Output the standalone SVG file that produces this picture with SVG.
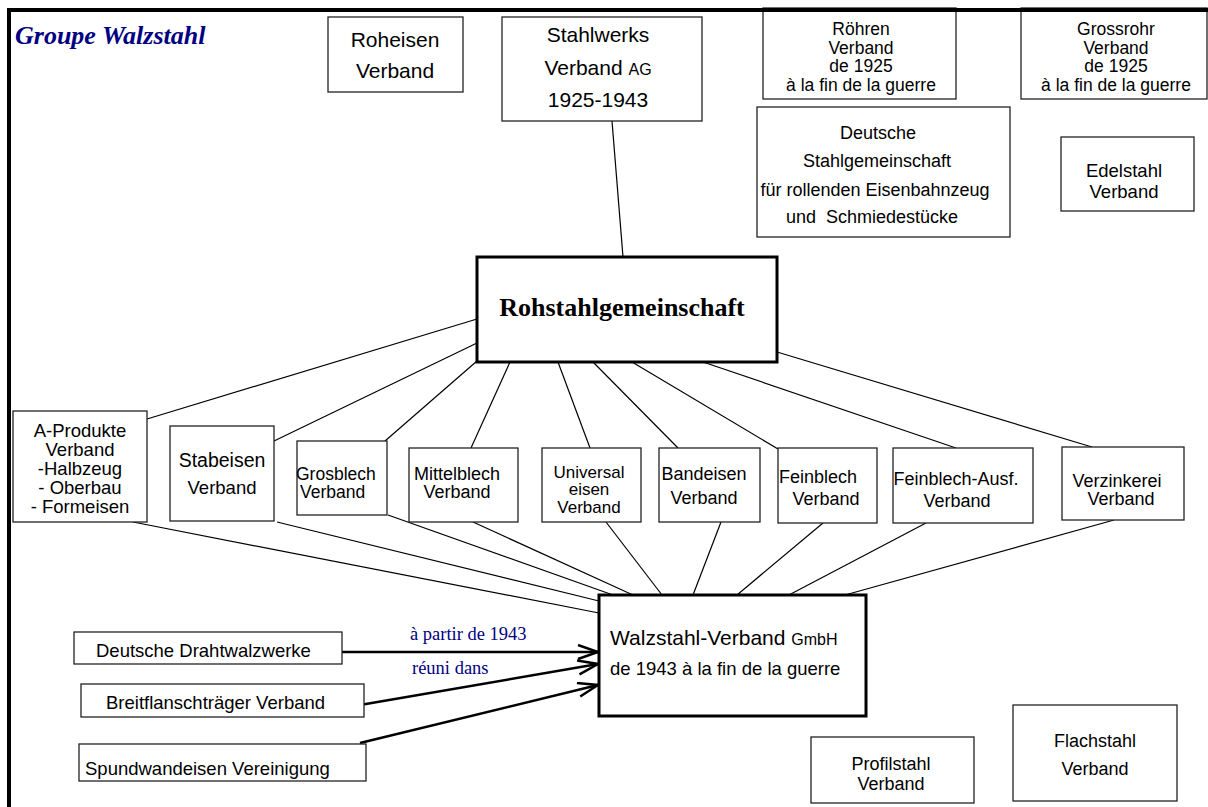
<svg xmlns="http://www.w3.org/2000/svg" width="1208" height="807" viewBox="0 0 1208 807">
<defs>
<style>
.box{fill:#fff;stroke:#222;stroke-width:1.3}
.thick{fill:#fff;stroke:#000;stroke-width:3}
.t{font-family:"Liberation Sans",Arial,sans-serif;font-size:18px;fill:#000}
.m{text-anchor:middle}
.c{stroke:#000;stroke-width:1.2;fill:none}
.a{stroke:#000;stroke-width:2.5;fill:none;marker-end:url(#open)}
.blue{font-family:"Liberation Serif","Times New Roman",serif;font-size:18.5px;fill:#000080}
</style>
<marker id="open" markerUnits="userSpaceOnUse" markerWidth="24" markerHeight="18" refX="21" refY="8" orient="auto" viewBox="0 0 24 18">
<path d="M1,1 L21,8 L1,15" fill="none" stroke="#000" stroke-width="2.5"/>
</marker>
</defs>
<rect x="0" y="0" width="1208" height="807" fill="#fff"/>

<g id="connectors">
<line class="c" x1="612" y1="121" x2="623" y2="257"/>
<line class="c" x1="147" y1="419" x2="477" y2="319"/>
<line class="c" x1="274" y1="441" x2="477" y2="343"/>
<line class="c" x1="385" y1="441" x2="477" y2="361"/>
<line class="c" x1="471" y1="448" x2="510" y2="362"/>
<line class="c" x1="590" y1="448" x2="558" y2="362"/>
<line class="c" x1="678" y1="448" x2="593" y2="362"/>
<line class="c" x1="778" y1="449" x2="632" y2="362"/>
<line class="c" x1="956" y1="448" x2="703" y2="362"/>
<line class="c" x1="1092" y1="447" x2="777" y2="352"/>
<line class="c" x1="133" y1="522" x2="599" y2="613"/>
<line class="c" x1="277" y1="522" x2="599" y2="601"/>
<line class="c" x1="388" y1="515" x2="613" y2="595"/>
<line class="c" x1="473" y1="522" x2="633" y2="595"/>
<line class="c" x1="606" y1="522" x2="662" y2="595"/>
<line class="c" x1="721" y1="522" x2="693" y2="595"/>
<line class="c" x1="823" y1="523" x2="737" y2="595"/>
<line class="c" x1="926" y1="523" x2="787" y2="596"/>
<line class="c" x1="1114" y1="520" x2="845" y2="595"/>
<line class="a" x1="339" y1="652" x2="598" y2="652"/>
<line class="a" x1="360" y1="705" x2="598" y2="664"/>
<line class="a" x1="360" y1="743" x2="598" y2="685"/>
<text class="blue" x="410" y="640">à partir de 1943</text>
<text class="blue" x="412" y="674">réuni dans</text>
</g>

<g id="title">
<text x="15" y="44" style="font-family:'Liberation Serif','Times New Roman',serif;font-size:26px;font-weight:bold;font-style:italic;fill:#000080">Groupe Walzstahl</text>
</g>

<g id="roheisen">
<rect class="box" x="328" y="17" width="135" height="75"/>
<text class="t m" x="395" y="47" style="font-size:21px">Roheisen</text>
<text class="t m" x="395" y="78" style="font-size:21px">Verband</text>
</g>

<g id="stahlwerks">
<rect class="box" x="502" y="17" width="200" height="104"/>
<text class="t m" x="598" y="42" style="font-size:21px">Stahlwerks</text>
<text class="t m" x="598" y="75" style="font-size:21px">Verband <tspan style="font-size:16px">AG</tspan></text>
<text class="t m" x="598" y="107" style="font-size:21px">1925-1943</text>
</g>

<g id="roehren">
<rect class="box" x="763" y="8" width="193" height="91"/>
<text class="t m" x="861" y="35" style="font-size:17.5px">Röhren</text>
<text class="t m" x="861" y="54" style="font-size:17.5px">Verband</text>
<text class="t m" x="861" y="72" style="font-size:17.5px">de 1925</text>
<text class="t m" x="861" y="91" style="font-size:17.5px">à la fin de la guerre</text>
</g>

<g id="grossrohr">
<rect class="box" x="1021" y="8" width="186" height="91"/>
<text class="t m" x="1116" y="35" style="font-size:17.5px">Grossrohr</text>
<text class="t m" x="1116" y="54" style="font-size:17.5px">Verband</text>
<text class="t m" x="1116" y="72" style="font-size:17.5px">de 1925</text>
<text class="t m" x="1116" y="91" style="font-size:17.5px">à la fin de la guerre</text>
</g>

<g id="deutsche-stahlgemeinschaft">
<rect class="box" x="757" y="107" width="253" height="130"/>
<text class="t m" x="878" y="139">Deutsche</text>
<text class="t m" x="877" y="167">Stahlgemeinschaft</text>
<text class="t m" x="875" y="196">für rollenden Eisenbahnzeug</text>
<text class="t m" x="872" y="223" xml:space="preserve" style="white-space:pre">und  Schmiedestücke</text>
</g>

<g id="edelstahl">
<rect class="box" x="1061" y="137" width="133" height="74"/>
<text class="t m" x="1124" y="177" style="font-size:18.5px">Edelstahl</text>
<text class="t m" x="1124" y="198" style="font-size:18.5px">Verband</text>
</g>

<g id="rohstahlgemeinschaft">
<rect class="thick" x="477" y="257" width="300" height="105"/>
<text x="622" y="316" text-anchor="middle" style="font-family:'Liberation Serif','Times New Roman',serif;font-size:26px;font-weight:bold">Rohstahlgemeinschaft</text>
</g>

<g id="a-produkte">
<rect class="box" x="13" y="411" width="134" height="111"/>
<text class="t m" x="80" y="437" style="font-size:18.5px">A-Produkte</text>
<text class="t m" x="80" y="456" style="font-size:18.5px">Verband</text>
<text class="t m" x="80" y="475" style="font-size:18.5px">-Halbzeug</text>
<text class="t m" x="80" y="494" style="font-size:18.5px">- Oberbau</text>
<text class="t m" x="80" y="513" style="font-size:18.5px">- Formeisen</text>
</g>

<g id="stabeisen">
<rect class="box" x="170" y="426" width="104" height="95"/>
<text class="t m" x="222" y="467" style="font-size:19.5px">Stabeisen</text>
<text class="t m" x="222" y="494" style="font-size:18.5px">Verband</text>
</g>

<g id="grosblech">
<rect class="box" x="297" y="441" width="90" height="74"/>
<text class="t" x="296" y="480" style="font-size:17.5px">Grosblech</text>
<text class="t" x="300" y="498" style="font-size:17.5px">Verband</text>
</g>

<g id="mittelblech">
<rect class="box" x="409" y="448" width="109" height="74"/>
<text class="t m" x="457" y="480">Mittelblech</text>
<text class="t m" x="457" y="498">Verband</text>
</g>

<g id="universaleisen">
<rect class="box" x="542" y="448" width="99" height="74"/>
<text class="t m" x="589" y="478" style="font-size:17px">Universal</text>
<text class="t m" x="589" y="495" style="font-size:17px">eisen</text>
<text class="t m" x="589" y="513" style="font-size:17px">Verband</text>
</g>

<g id="bandeisen">
<rect class="box" x="659" y="448" width="101" height="74"/>
<text class="t m" x="704" y="480">Bandeisen</text>
<text class="t m" x="704" y="504">Verband</text>
</g>

<g id="feinblech">
<rect class="box" x="778" y="448" width="99" height="75"/>
<text class="t" x="779" y="483">Feinblech</text>
<text class="t m" x="826" y="505">Verband</text>
</g>

<g id="feinblech-ausf">
<rect class="box" x="893" y="448" width="140" height="75"/>
<text class="t m" x="956" y="485">Feinblech-Ausf.</text>
<text class="t m" x="957" y="507">Verband</text>
</g>

<g id="verzinkerei">
<rect class="box" x="1062" y="447" width="122" height="73"/>
<text class="t m" x="1117" y="487">Verzinkerei</text>
<text class="t m" x="1121" y="505">Verband</text>
</g>

<g id="walzstahl-verband">
<rect class="thick" x="599" y="595" width="267" height="121"/>
<text class="t" x="610" y="645" style="font-size:21px">Walzstahl-Verband <tspan style="font-size:16px">GmbH</tspan></text>
<text class="t" x="610" y="675" style="font-size:18.5px">de 1943 à la fin de la guerre</text>
</g>

<g id="deutsche-drahtwalzwerke">
<rect class="box" x="74" y="632" width="268" height="32"/>
<text class="t" x="96" y="657" style="font-size:18.5px">Deutsche Drahtwalzwerke</text>
</g>

<g id="breitflanschtraeger">
<rect class="box" x="81" y="684" width="283" height="33"/>
<text class="t" x="106" y="709" style="font-size:18.5px">Breitflanschträger Verband</text>
</g>

<g id="spundwandeisen">
<rect class="box" x="79" y="744" width="287" height="37"/>
<text class="t" x="85" y="775" style="font-size:18.5px">Spundwandeisen Vereinigung</text>
</g>

<g id="profilstahl">
<rect class="box" x="811" y="737" width="163" height="66"/>
<text class="t m" x="891" y="770">Profilstahl</text>
<text class="t m" x="891" y="790">Verband</text>
</g>

<g id="flachstahl">
<rect class="box" x="1013" y="705" width="164" height="96"/>
<text class="t m" x="1095" y="747">Flachstahl</text>
<text class="t m" x="1095" y="775">Verband</text>
</g>

<g id="frame">
<path d="M9,807 V10 H1208" fill="none" stroke="#000" stroke-width="4"/>
</g>
</svg>
